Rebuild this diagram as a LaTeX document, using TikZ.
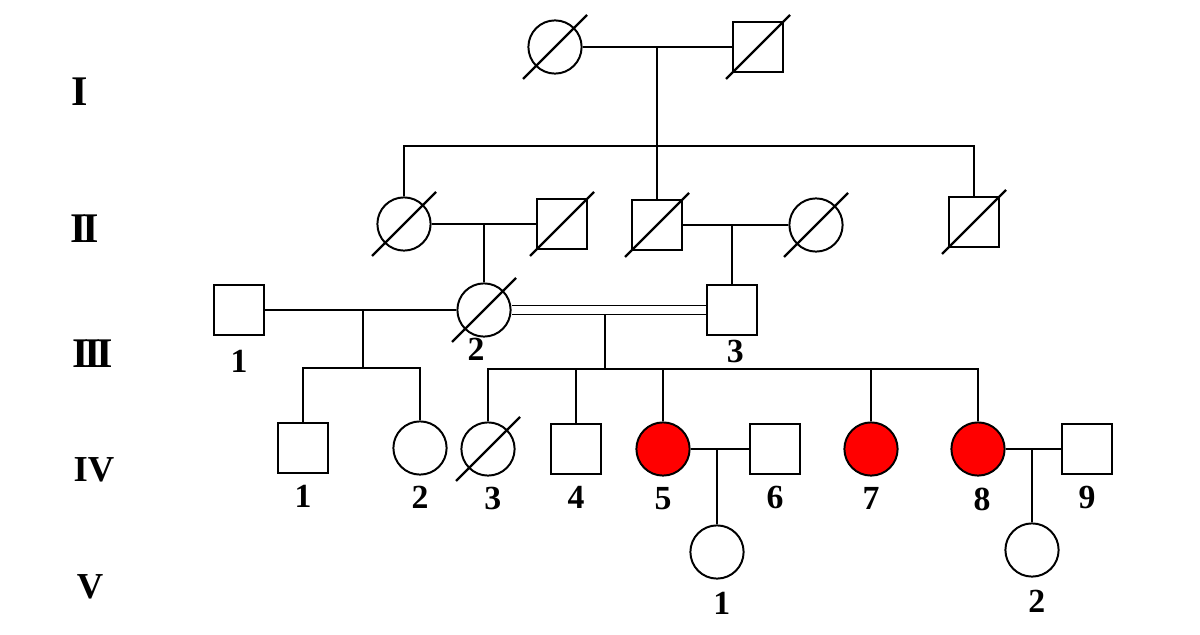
\documentclass[tikz,border=0pt]{standalone}
\usepackage{fontspec}
\setmainfont{Liberation Serif}
\usetikzlibrary{positioning}

\newcommand{\deceased}[1]{\draw[slash] (#1) ++(-32,32) -- ++(64,-64);}

\begin{document}
\begin{tikzpicture}[
  x=0.025cm, y=-0.025cm,
  line width=1.4pt,
  male/.style={draw, rectangle, minimum size=1.25cm, inner sep=0pt, fill=white},
  female/.style={draw, circle, minimum size=1.33cm, inner sep=0pt, fill=white},
  affected/.style={female, fill=red},
  num/.style={font=\fontsize{24}{26}\selectfont\bfseries, inner sep=0pt},
  gen/.style={font=\fontsize{30}{32}\selectfont\bfseries, inner sep=0pt},
  gensmall/.style={gen, font=\fontsize{26}{28}\selectfont\bfseries},
  slash/.style={line width=1.7pt},
  label distance=0.25cm,
]
\useasboundingbox (0,0) rectangle (1200,635);

%% Generation labels
\node[gen] (gI)   at (80,92)  {I};
\node[gen] (gII)  at (85,229) {I\kern-3pt I};
\node[gen] (gIII) at (93,354) {I\kern-3pt I\kern-3pt I};
\node[gensmall] (gIV) at (94,470) {IV};
\node[gensmall] (gV)  at (90,587) {V};

%% Generation I
\node[female] (I1) at (555,47) {};
\node[male]   (I2) at (758,47) {};

%% Generation II
\node[female] (II1) at (404,224) {};
\node[male]   (II2) at (562,224) {};
\node[male]   (II3) at (657,225) {};
\node[female] (II4) at (816,225) {};
\node[male]   (II5) at (974,222) {};

%% Generation III
\node[male, label={[num, label distance=0.32cm]below:1}] (III1) at (239,310) {};
\node[female, label={[num, label distance=0pt, xshift=-0.2cm]below:2}] (III2) at (484,310) {};
\node[male, label={[num, label distance=0.08cm, xshift=0.08cm]below:3}] (III3) at (732,310) {};

%% Generation IV
\node[male, label={[num]below:1}] (IV1) at (303,448) {};
\node[female, label={[num]below:2}] (IV2) at (420,448) {};
\node[female, label={[num, xshift=0.12cm]below:3}] (IV3) at (488,449) {};
\node[male, label={[num]below:4}] (IV4) at (576,449) {};
\node[affected, label={[num]below:5}] (IV5) at (663,449) {};
\node[male, label={[num]below:6}] (IV6) at (775,449) {};
\node[affected, label={[num]below:7}] (IV7) at (871,449) {};
\node[affected, label={[num, xshift=0.1cm]below:8}] (IV8) at (978,449) {};
\node[male, label={[num]below:9}] (IV9) at (1087,449) {};

%% Generation V
\node[female, label={[num, label distance=0.29cm, xshift=0.12cm]below:1}] (V1) at (717,552) {};
\node[female, label={[num, label distance=0.29cm, xshift=0.12cm]below:2}] (V2) at (1032,550) {};

%% Matings and descent
\draw (I1) -- (I2);
\coordinate (cI) at (657,47);
\coordinate (sII) at (657,146);
\draw (cI) -- (sII);
\draw (II1.north) |- (sII) -| (II5.north);
\draw (sII) -- (II3.north);

\draw (II1) -- (II2);
\coordinate (cII1) at (484,224);
\draw (cII1) -- (III2.north);
\draw (II3) -- (II4);
\coordinate (cII2) at (732,225);
\draw (cII2) -- (III3.north);

\draw (III1) -- (III2);
\draw[double, double distance=0.175cm] (III2) -- (III3);

\coordinate (cIII1) at (363,310);
\coordinate (sIV1) at (363,368);
\draw (cIII1) -- (sIV1);
\draw (IV1.north) |- (sIV1) -| (IV2.north);

\coordinate (cIII2) at (605,314.5);
\coordinate (sIV2) at (605,369);
\draw (cIII2) -- (sIV2);
\draw (IV3.north) |- (sIV2) -| (IV8.north);
\foreach \n in {IV4,IV5,IV7}
  \draw (\n.north) -- (\n.north |- sIV2);

\draw (IV5) -- (IV6);
\coordinate (cIV1) at (717,449);
\draw (cIV1) -- (V1.north);
\draw (IV8) -- (IV9);
\coordinate (cIV2) at (1032,449);
\draw (cIV2) -- (V2.north);

%% Deceased
\foreach \n in {I1,I2,II1,II2,II3,II4,II5,III2,IV3}
  {\deceased{\n}}

\end{tikzpicture}
\end{document}
